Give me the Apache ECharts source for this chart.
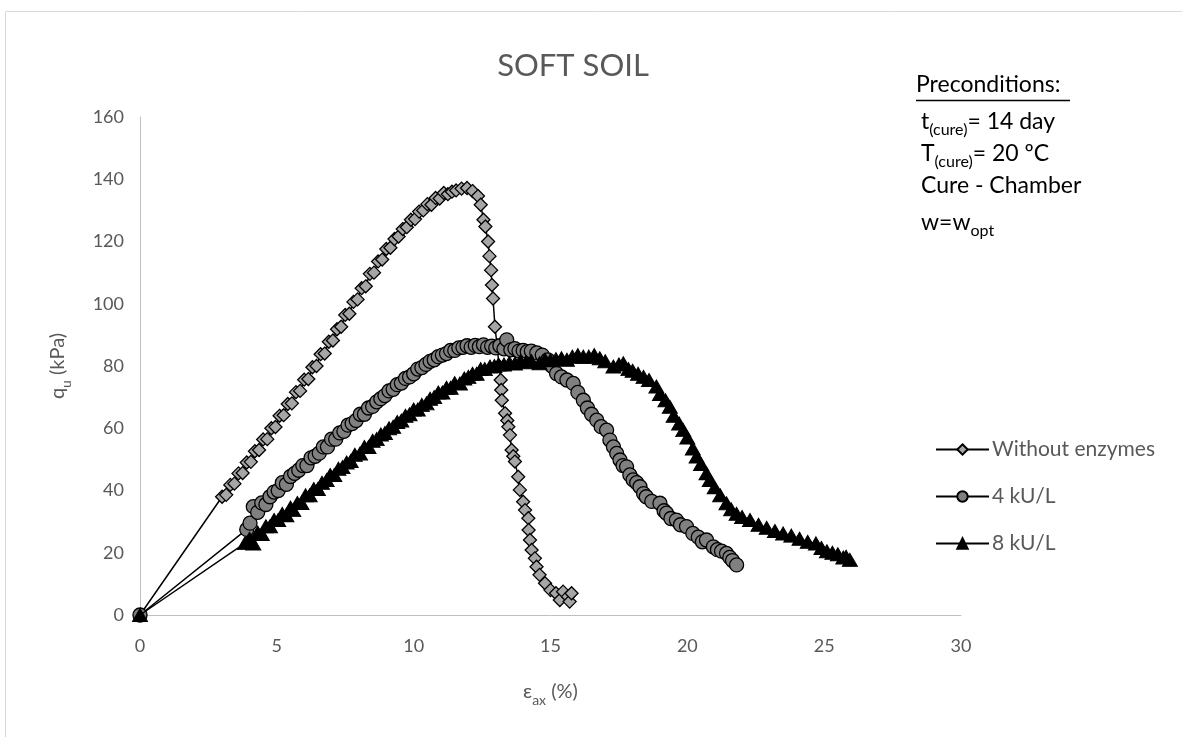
<!DOCTYPE html>
<html>
<head>
<meta charset="utf-8">
<script src="https://cdn.jsdelivr.net/npm/echarts@6/dist/echarts.min.js"></script>
<style>
html,body{margin:0;padding:0;background:#fff;}
#chart{width:1182px;height:737px;}
</style>
</head>
<body>
<div id="chart"></div>
<script>
// ---- Data ----
var seriesNames = ['Without enzymes', '4 kU/L', '8 kU/L'];
var xTicks = [0, 5, 10, 15, 20, 25, 30];
var yTicks = [0, 20, 40, 60, 80, 100, 120, 140, 160];

var noEnzX = [0, 3.00, 3.15, 3.30, 3.45, 3.60, 3.75, 3.90, 4.05, 4.20, 4.35, 4.50, 4.65, 4.80, 4.95, 5.10, 5.25, 5.40, 5.55, 5.70, 5.85, 6.00, 6.15, 6.30, 6.45, 6.60, 6.75, 6.90, 7.05, 7.20, 7.35, 7.50, 7.65, 7.80, 7.95, 8.10, 8.25, 8.40, 8.55, 8.70, 8.85, 9.00, 9.15, 9.30, 9.45, 9.60, 9.75, 9.90, 10.05, 10.20, 10.35, 10.50, 10.65, 10.80, 10.95, 11.10, 11.25, 11.40, 11.55, 11.75, 11.95, 12.15, 12.35, 12.45, 12.55, 12.62, 12.72, 12.77, 12.83, 12.86, 12.90, 12.97, 13.05, 13.12, 13.18, 13.20, 13.22, 13.34, 13.42, 13.46, 13.52, 13.58, 13.64, 13.70, 13.82, 13.88, 14.00, 14.07, 14.19, 14.20, 14.25, 14.31, 14.43, 14.49, 14.60, 14.80, 15.00, 15.20, 15.34, 15.46, 15.64, 15.70, 15.77];
var noEnzY = [0, 38.0, 38.6, 41.8, 42.2, 45.5, 45.6, 49.0, 49.2, 52.6, 53.0, 56.4, 56.5, 60.0, 60.4, 64.0, 64.2, 67.8, 68.0, 71.6, 72.0, 75.6, 75.8, 79.6, 80.0, 83.8, 84.0, 87.8, 88.2, 91.8, 92.6, 96.4, 96.8, 100.6, 101.4, 105.0, 105.6, 109.6, 110.0, 113.6, 114.2, 117.6, 118.0, 120.8, 121.6, 124.0, 124.6, 127.0, 127.2, 129.6, 130.0, 132.0, 131.8, 134.0, 133.8, 135.6, 135.2, 136.0, 136.4, 137.0, 137.2, 136.2, 134.6, 131.8, 127.0, 124.8, 120.0, 115.3, 110.8, 106.0, 101.7, 92.6, 86.5, 80.0, 75.5, 72.3, 69.0, 64.8, 62.5, 60.5, 57.8, 53.0, 51.0, 49.3, 44.4, 40.2, 36.4, 33.7, 31.1, 27.3, 24.1, 20.9, 18.2, 15.5, 12.9, 10.2, 8.0, 7.0, 4.8, 7.5, 5.9, 4.3, 7.0];

var kU4X = [0, 3.90, 4.02, 4.14, 4.30, 4.45, 4.60, 4.75, 4.90, 5.05, 5.20, 5.35, 5.50, 5.65, 5.80, 5.95, 6.10, 6.25, 6.40, 6.55, 6.70, 6.85, 7.00, 7.15, 7.30, 7.45, 7.60, 7.75, 7.90, 8.05, 8.20, 8.35, 8.50, 8.65, 8.80, 8.95, 9.10, 9.25, 9.40, 9.55, 9.70, 9.85, 10.00, 10.15, 10.30, 10.45, 10.60, 10.75, 10.90, 11.05, 11.20, 11.35, 11.50, 11.65, 11.80, 11.95, 12.10, 12.25, 12.40, 12.55, 12.70, 12.85, 13.00, 13.15, 13.30, 13.40, 13.55, 13.70, 13.85, 14.00, 14.15, 14.30, 14.50, 14.70, 14.90, 15.05, 15.22, 15.40, 15.60, 15.83, 16.00, 16.20, 16.35, 16.50, 16.69, 16.85, 17.05, 17.17, 17.30, 17.42, 17.54, 17.65, 17.78, 17.90, 18.02, 18.15, 18.27, 18.40, 18.50, 18.70, 19.00, 19.15, 19.24, 19.40, 19.60, 19.75, 19.97, 20.20, 20.40, 20.55, 20.70, 20.95, 21.10, 21.25, 21.43, 21.55, 21.65, 21.80];
var kU4Y = [0, 27.5, 29.5, 34.8, 33.0, 36.0, 35.5, 38.0, 39.5, 40.0, 42.5, 42.0, 44.5, 45.5, 46.5, 48.0, 48.0, 50.5, 51.0, 52.0, 54.0, 54.0, 56.5, 56.5, 58.5, 59.0, 61.0, 61.5, 62.5, 64.5, 64.5, 66.5, 67.0, 68.5, 69.5, 70.5, 72.0, 72.5, 74.0, 74.5, 76.0, 76.5, 77.5, 79.0, 79.5, 80.5, 81.5, 82.0, 83.0, 83.5, 84.0, 85.0, 85.0, 85.8, 86.0, 86.5, 86.0, 86.6, 86.2, 86.8, 86.0, 86.4, 85.8, 86.5, 85.5, 88.4, 85.2, 85.6, 84.8, 85.0, 84.6, 84.8, 84.2, 83.5, 82.0, 80.0, 77.6, 76.5, 75.5, 74.4, 71.5, 69.0, 66.5, 64.5, 62.6, 60.5, 59.4, 56.2, 54.0, 51.9, 49.8, 48.0, 47.6, 45.0, 43.4, 42.5, 41.2, 39.0, 38.0, 36.5, 35.9, 33.5, 32.7, 31.0, 30.5, 29.0, 28.4, 26.2, 25.0, 23.5, 24.1, 21.9, 21.0, 20.5, 19.8, 18.5, 17.5, 16.1];

var kU8X = [0, 3.84, 4.00, 4.14, 4.30, 4.45, 4.60, 4.75, 4.90, 5.05, 5.20, 5.35, 5.50, 5.60, 5.75, 5.90, 6.05, 6.20, 6.35, 6.50, 6.65, 6.82, 6.95, 7.10, 7.25, 7.40, 7.55, 7.70, 7.85, 8.04, 8.20, 8.35, 8.50, 8.65, 8.80, 8.95, 9.10, 9.25, 9.40, 9.55, 9.70, 9.85, 10.00, 10.15, 10.30, 10.47, 10.60, 10.75, 10.90, 11.05, 11.20, 11.35, 11.50, 11.69, 11.85, 12.00, 12.15, 12.30, 12.45, 12.60, 12.79, 12.95, 13.10, 13.30, 13.50, 13.70, 13.90, 14.10, 14.30, 14.60, 14.80, 15.00, 15.20, 15.40, 15.60, 15.80, 16.00, 16.20, 16.40, 16.60, 16.80, 17.00, 17.30, 17.50, 17.66, 17.85, 18.00, 18.20, 18.40, 18.60, 18.87, 19.00, 19.20, 19.36, 19.50, 19.70, 19.85, 20.00, 20.20, 20.34, 20.50, 20.70, 20.82, 21.00, 21.20, 21.43, 21.60, 21.80, 22.00, 22.29, 22.60, 22.90, 23.20, 23.50, 23.80, 24.10, 24.40, 24.70, 24.90, 25.10, 25.30, 25.50, 25.70, 25.80, 25.94];
var kU8Y = [0, 23.1, 24.5, 23.0, 26.5, 26.0, 28.5, 28.5, 30.5, 30.5, 32.5, 32.0, 34.5, 33.7, 36.0, 36.0, 38.5, 38.5, 40.5, 40.5, 42.5, 43.4, 45.0, 45.0, 47.0, 47.5, 49.0, 49.5, 51.5, 51.9, 54.0, 54.0, 56.0, 56.5, 58.0, 58.5, 60.0, 60.5, 62.0, 62.5, 64.0, 64.5, 66.0, 66.0, 67.5, 68.0, 69.5, 70.0, 71.5, 71.5, 73.0, 73.0, 74.5, 74.4, 76.0, 76.5, 77.5, 77.5, 79.0, 79.0, 79.8, 80.0, 80.5, 80.5, 81.0, 80.8, 81.5, 81.2, 81.6, 80.9, 82.0, 81.8, 82.2, 82.5, 82.0, 83.0, 83.5, 83.0, 83.0, 83.5, 82.5, 81.5, 79.8, 80.5, 80.9, 79.0, 78.5, 77.5, 76.5, 75.5, 73.4, 71.0, 69.0, 66.9, 64.0, 61.5, 59.4, 57.0, 53.5, 50.9, 48.5, 45.5, 43.4, 41.0, 38.5, 35.9, 34.0, 32.5, 31.5, 30.5, 29.0, 28.0, 27.0, 26.2, 25.5, 24.5, 23.5, 23.0, 21.5, 20.5, 20.0, 19.5, 18.5, 18.7, 17.7];

function zip(xs, ys) { return xs.map(function (x, i) { return [x, ys[i]]; }); }

var FONT = 'Lato';
var GREY = '#595959';

var chart = echarts.init(document.getElementById('chart'), null, { renderer: 'canvas' });

var subRich = {
  n: { fontFamily: FONT, fontSize: 23, color: '#000', lineHeight: 25, verticalAlign: 'top' },
  s: { fontFamily: FONT, fontSize: 16, color: '#000', lineHeight: 16, padding: [12, 0, 0, 0], verticalAlign: 'top' }
};
var axisRich = {
  a: { fontFamily: FONT, fontSize: 20, color: GREY, lineHeight: 22, verticalAlign: 'top' },
  b: { fontFamily: FONT, fontSize: 14, color: GREY, lineHeight: 14, padding: [11, 0, 0, 0], verticalAlign: 'top' }
};

var option = {
  animation: false,
  backgroundColor: '#fff',
  textStyle: { fontFamily: FONT },
  title: {
    text: 'SOFT SOIL',
    left: 568,
    textAlign: 'center',
    top: 45,
    textStyle: { fontFamily: FONT, fontSize: 31, fontWeight: 'normal', color: GREY }
  },
  legend: {
    orient: 'vertical',
    left: 935,
    top: 439,
    itemWidth: 53,
    itemHeight: 13,
    itemGap: 26,
    padding: 0,
    data: seriesNames,
    textStyle: { fontFamily: FONT, fontSize: 21, color: GREY, padding: [0, 0, 0, -2] }
  },
  grid: { left: 140, right: 221, top: 117, bottom: 122 },
  xAxis: {
    type: 'value',
    min: xTicks[0],
    max: xTicks[xTicks.length - 1],
    interval: 5,
    axisLine: { show: true, lineStyle: { color: '#bfbfbf', width: 1 } },
    axisTick: { show: false },
    splitLine: { show: false },
    axisLabel: { fontFamily: FONT, fontSize: 18, color: GREY, margin: 22 },
    name: '{a|ε}{b|ax}{a| (%)}',
    nameLocation: 'middle',
    nameGap: 67,
    nameTextStyle: { rich: axisRich }
  },
  yAxis: {
    type: 'value',
    min: yTicks[0],
    max: yTicks[yTicks.length - 1],
    interval: 20,
    axisLine: { show: true, lineStyle: { color: '#bfbfbf', width: 1 } },
    axisTick: { show: false },
    splitLine: { show: false },
    axisLabel: { fontFamily: FONT, fontSize: 18, color: GREY, margin: 16 },
    name: '{a|q}{b|u}{a| (kPa)}',
    nameLocation: 'middle',
    nameGap: 70,
    nameRotate: 90,
    nameTextStyle: { rich: axisRich }
  },
  graphic: [
    { type: 'rect', silent: true, z: -10, shape: { x: 5.5, y: 11.5, width: 1300, height: 900 },
      style: { fill: 'none', stroke: '#d9d9d9', lineWidth: 1 } },
    { type: 'text', left: 916, top: 73, style: { text: 'Preconditions:', font: '23px ' + FONT, fill: '#000' } },
    { type: 'line', shape: { x1: 916, y1: 100.5, x2: 1070, y2: 100.5 }, style: { stroke: '#000', lineWidth: 1.3 } },
    { type: 'text', left: 921, top: 110, style: { text: '{n|t}{s|(cure)}{n|= 14 day}', rich: subRich } },
    { type: 'text', left: 921, top: 142, style: { text: '{n|T}{s|(cure)}{n|= 20 ºC}', rich: subRich } },
    { type: 'text', left: 921, top: 174, style: { text: 'Cure - Chamber', font: '23px ' + FONT, fill: '#000' } },
    { type: 'text', left: 921, top: 211, style: { text: '{n|w=w}{s|opt}', rich: subRich } }
  ],
  series: [
    {
      name: seriesNames[0], type: 'line', data: zip(noEnzX, noEnzY),
      symbol: 'diamond', symbolSize: 13, showSymbol: true,
      lineStyle: { color: '#000', width: 1.5 },
      itemStyle: { color: '#a6a6a6', borderColor: '#000', borderWidth: 1.3 },
      z: 2
    },
    {
      name: seriesNames[1], type: 'line', data: zip(kU4X, kU4Y),
      symbol: 'circle', symbolSize: 14, showSymbol: true,
      lineStyle: { color: '#000', width: 1.5 },
      itemStyle: { color: '#808080', borderColor: '#000', borderWidth: 1.3 },
      z: 3
    },
    {
      name: seriesNames[2], type: 'line', data: zip(kU8X, kU8Y),
      symbol: 'triangle', symbolSize: [15, 13], showSymbol: true,
      lineStyle: { color: '#000', width: 1.5 },
      itemStyle: { color: '#000', borderColor: '#000', borderWidth: 1 },
      z: 4
    }
  ]
};
chart.setOption(option);
</script>
</body>
</html>
